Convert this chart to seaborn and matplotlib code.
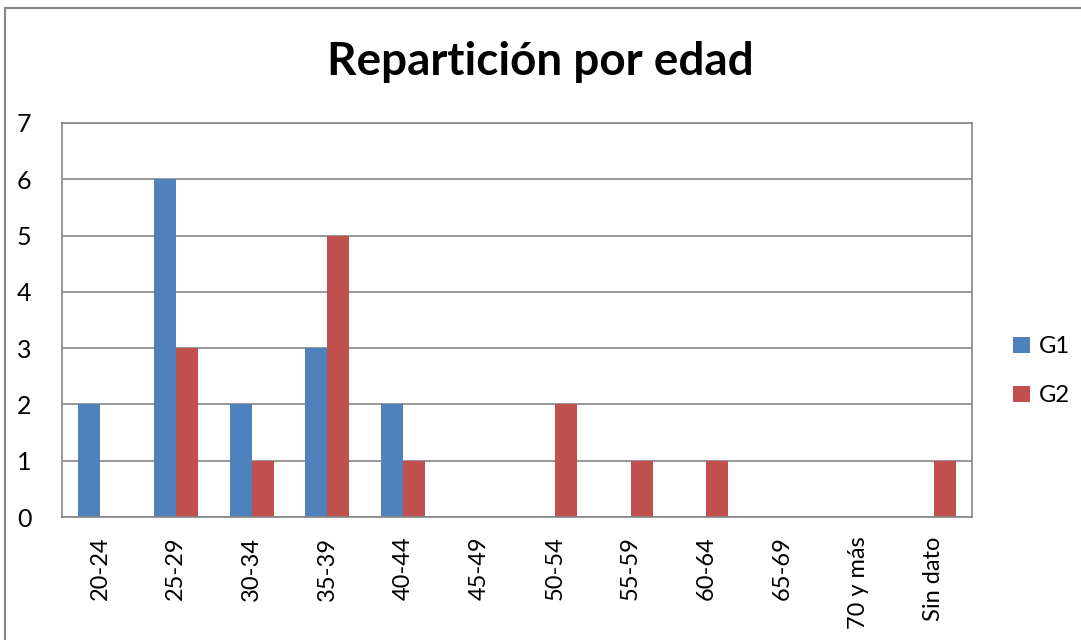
import pandas as pd
import matplotlib.pyplot as plt
import matplotlib.patches as mpatches
import seaborn as sns

# Data
categories = ["20-24", "25-29", "30-34", "35-39", "40-44", "45-49",
              "50-54", "55-59", "60-64", "65-69", "70 y más", "Sin dato"]
g1 = [2, 6, 2, 3, 2, 0, 0, 0, 0, 0, 0, 0]
g2 = [0, 3, 1, 5, 1, 0, 2, 1, 1, 0, 0, 1]

df = pd.DataFrame({
    "Edad": categories * 2,
    "Valor": g1 + g2,
    "Grupo": ["G1"] * len(categories) + ["G2"] * len(categories),
})

sns.set_style("white")
plt.rcParams['font.family'] = ['Lato', 'DejaVu Sans']
plt.rcParams['text.color'] = 'black'
plt.rcParams['xtick.color'] = 'black'
plt.rcParams['ytick.color'] = 'black'

fig = plt.figure(figsize=(10.81, 6.4), dpi=100)
ax = fig.add_axes([0.0574, 0.192, 0.8416, 0.616])

sns.barplot(data=df, x="Edad", y="Valor", hue="Grupo",
            palette={"G1": "#4F81BD", "G2": "#C0504D"},
            width=0.58, saturation=1, linewidth=0, ax=ax, legend=True)

ax.set_ylim(0, 7)
ax.set_xlim(-0.5, len(categories) - 0.5)
ax.set_yticks(range(8))
ax.yaxis.grid(True, color="#868686", linewidth=1.2)
ax.set_axisbelow(True)
for s in ax.spines.values():
    s.set_color("#868686")
    s.set_linewidth(1.2)
ax.set_xlabel("")
ax.set_ylabel("")
ax.tick_params(axis="y", labelsize=18, pad=22, length=0)
ax.tick_params(axis="x", labelsize=17, rotation=90, pad=14, length=0)

ax.legend(loc="center left", bbox_to_anchor=(1.022, 0.37), frameon=False,
          fontsize=17, handlelength=0.7, handleheight=0.7,
          labelspacing=1.2, handletextpad=0.4)

fig.text(0.5, 0.903, "Repartición por edad", ha="center", va="center",
         fontsize=33, fontweight="bold")

# outer chart border
fig.patches.append(mpatches.Rectangle((5 / 1081, -0.1), 1.2, (640 - 8) / 640 + 0.1,
                                      transform=fig.transFigure, fill=False,
                                      edgecolor="#868686", linewidth=1.5))

fig.savefig("out.png", dpi=100)
